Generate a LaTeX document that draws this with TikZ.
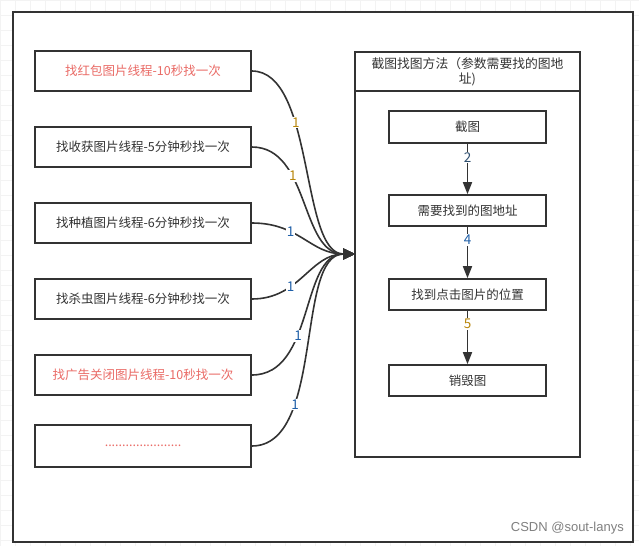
\documentclass[tikz,border=0pt]{standalone}
\usepackage{fontspec}
\setmainfont{Noto Sans CJK SC}
\newfontfamily\wmfont{Liberation Sans}
\usetikzlibrary{arrows.meta}
\definecolor{edge}{HTML}{333333}
\definecolor{txt}{HTML}{333333}
\definecolor{redtxt}{HTML}{EA6B66}
\definecolor{orangelbl}{HTML}{B8860B}
\definecolor{bluelbl}{HTML}{1F5FA8}
\definecolor{navylbl}{HTML}{2F4F6F}
\definecolor{gridc}{HTML}{F3F3F3}
\tikzset{
  leftbox/.style={draw=edge, line width=1.6pt, minimum width=216pt, minimum height=40pt, inner sep=0pt, font=\fontsize{12.5}{15}\selectfont, text=txt},
  innerbox/.style={draw=edge, line width=1.6pt, minimum width=157pt, minimum height=32pt, inner sep=0pt, font=\fontsize{12.5}{15}\selectfont, text=txt},
  curvearrow/.style={draw=edge, line width=1.6pt, -{Triangle[length=12pt,width=11pt]}},
  flowarrow/.style={draw=edge, line width=1.6pt, -{Triangle[length=12pt,width=9pt]}},
  elabel/.style={fill=white, inner sep=1pt, font=\fontsize{13.5}{15}\selectfont},
}
\begin{document}
\begin{tikzpicture}[x=1pt, y=-1pt]
\useasboundingbox (0,0) rectangle (639,546);
\fill[white] (0,0) rectangle (639,546);
\draw[gridc, line width=0.6pt, step=15pt] (0,0) grid (639,546);
\draw[edge, fill=white, line width=1.6pt] (13,12) rectangle (633,542);

% left boxes
\node[leftbox, text=redtxt] (b1) at (143,71) {找红包图片线程-10秒找一次};
\node[leftbox] (b2) at (143,147) {找收获图片线程-5分钟秒找一次};
\node[leftbox] (b3) at (143,223) {找种植图片线程-6分钟秒找一次};
\node[leftbox] (b4) at (143,299) {找杀虫图片线程-6分钟秒找一次};
\node[leftbox, text=redtxt] (b5) at (143,375) {找广告关闭图片线程-10秒找一次};
\node[leftbox, minimum height=42pt, text=redtxt] (b6) at (143,446) {......................};

% container
\draw[edge, line width=1.6pt] (355,52) rectangle (580,457);
\node[draw=edge, line width=1.6pt, minimum width=225pt, minimum height=39pt, inner sep=0pt, align=center, font=\fontsize{12.8}{15}\selectfont, text=txt] (title) at (467.5,71.5) {截图找图方法（参数需要找的图地\\址)};
\coordinate (target) at (355,254);

% inner flow
\node[innerbox] (s1) at (467.5,127) {截图};
\node[innerbox, minimum height=31pt] (s2) at (467.5,210.5) {需要找到的图地址};
\node[innerbox, minimum height=31pt] (s3) at (467.5,294.5) {找到点击图片的位置};
\node[innerbox, minimum height=31pt] (s4) at (467.5,380.5) {销毁图};

\draw[flowarrow] (s1) -- node[elabel, text=navylbl, pos=0.27] {2} (s2);
\draw[flowarrow] (s2) -- node[elabel, text=bluelbl, pos=0.26] {4} (s3);
\draw[flowarrow] (s3) -- node[elabel, text=orangelbl, pos=0.24] {5} (s4);

% curved connectors
\draw[curvearrow] (b1.east) .. controls (315,71) and (300,254) .. node[elabel, text=orangelbl, pos=0.35] {1} (target);
\draw[curvearrow] (b2.east) .. controls (310,147) and (300,254) .. node[elabel, text=orangelbl, pos=0.34] {1} (target);
\draw[curvearrow] (b3.east) .. controls (300,223) and (310,254) .. node[elabel, text=bluelbl, pos=0.34] {1} (target);
\draw[curvearrow] (b4.east) .. controls (300,299) and (310,254) .. node[elabel, text=bluelbl, pos=0.34] {1} (target);
\draw[curvearrow] (b5.east) .. controls (315,375) and (300,254) .. node[elabel, text=bluelbl, pos=0.38] {1} (target);
\draw[curvearrow] (b6.east) .. controls (325,446) and (295,254) .. node[elabel, text=bluelbl, pos=0.3] {1} (target);

% watermark
\node[anchor=east, font=\wmfont\fontsize{13}{15}\selectfont, text=black!50, inner sep=0pt] (wm) at (624,528) {CSDN @sout-lanys};
\end{tikzpicture}
\end{document}
